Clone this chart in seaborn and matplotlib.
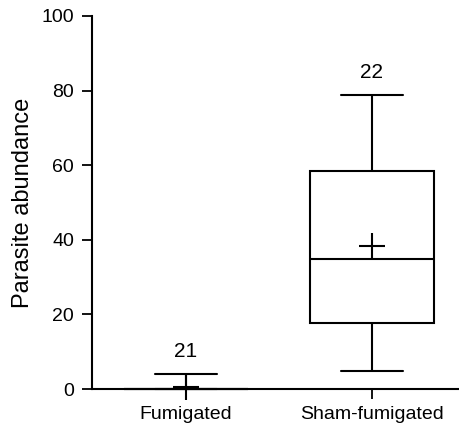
import numpy as np
import pandas as pd
import matplotlib
matplotlib.use("Agg")
import matplotlib.pyplot as plt
import seaborn as sns

# Five-number summaries (min, Q1, median, Q3, max)
groups = ["Fumigated", "Sham-fumigated"]
fum_summary = [0.0, 0.0, 0.0, 0.0, 4.0]
sham_summary = [4.8, 17.8, 34.9, 58.4, 78.8]
means = [0.5, 38.4]
counts = ["21", "22"]
yticks = [0, 20, 40, 60, 80, 100]

sns.set_style("ticks")
plt.rcParams["font.family"] = ["Liberation Sans", "DejaVu Sans"]
plt.rcParams["text.color"] = "black"
plt.rcParams["axes.labelcolor"] = "black"

df = pd.DataFrame({
    "group": [groups[0]] * len(fum_summary) + [groups[1]] * len(sham_summary),
    "value": fum_summary + sham_summary,
})

fig = plt.figure(figsize=(4.6, 4.3), dpi=100)
ax = fig.add_axes([0.2, 0.0953, 0.8, 0.8677])

sns.boxplot(data=df, x="group", y="value", order=groups, width=0.67,
            whis=(0, 100), color="white", linecolor="black", linewidth=1.5,
            ax=ax)
for art in ax.patches + ax.lines:
    art.set_clip_on(False)

ax.plot(range(len(groups)), means, linestyle="none", marker="+",
        markersize=19, markeredgewidth=1.5, color="black", clip_on=False)

tops = [fum_summary[-1], sham_summary[-1]]
for i, (t, c) in enumerate(zip(tops, counts)):
    ax.annotate(c, xy=(i, t), xytext=(0, 12), textcoords="offset points",
                ha="center", va="baseline", fontsize=15, color="black")

ax.set_ylim(0, 100)
ax.set_xlim(-0.505, 1.473)
ax.set_yticks(yticks)
ax.set_xlabel("")
ax.set_ylabel("Parasite abundance", fontsize=17, labelpad=5, color="black")
ax.tick_params(axis="both", labelsize=14, length=7, width=1.3,
               color="black", labelcolor="black")
ax.tick_params(axis="y", pad=6)
ax.tick_params(axis="x", pad=5)
for s in ["left", "bottom"]:
    ax.spines[s].set_linewidth(1.5)
    ax.spines[s].set_color("black")
sns.despine(ax=ax)

fig.savefig("out.png", dpi=100)
